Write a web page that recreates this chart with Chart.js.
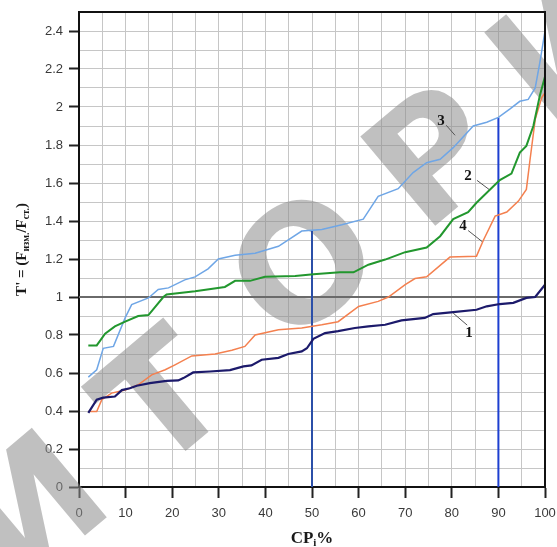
<!DOCTYPE html>
<html><head><meta charset="utf-8">
<script src="https://cdn.jsdelivr.net/npm/chart.js@4.4.1/dist/chart.umd.min.js"></script>
<style>html,body{margin:0;padding:0;background:#fff}canvas{display:block}</style>
</head><body>
<canvas id="c" width="557" height="547"></canvas>
<script>
// ---- data ----
const x1 = [2, 3.8, 5.2, 7.7, 9.2, 10.9, 12.4, 15.2, 18.8, 21.3, 22.4, 24.5, 28.1, 32.4, 35.3, 37, 39.2, 42.8, 44.9, 47.8, 48.9, 50.3, 52.8, 55.6, 59.2, 62.1, 65.7, 69.2, 74.2, 76, 80.3, 85.3, 87.5, 90.3, 93.2, 96, 97.9, 100];
const y1 = [0.39, 0.46, 0.47, 0.476, 0.51, 0.52, 0.533, 0.547, 0.559, 0.561, 0.573, 0.603, 0.608, 0.615, 0.635, 0.64, 0.67, 0.68, 0.70, 0.714, 0.73, 0.78, 0.81, 0.82, 0.837, 0.845, 0.854, 0.877, 0.89, 0.91, 0.92, 0.933, 0.951, 0.963, 0.969, 0.995, 1.0, 1.065];
const x2 = [2, 3.8, 5.6, 7.7, 9.9, 12.7, 14.9, 18.1, 18.8, 24.9, 31.3, 33.5, 36.7, 39.9, 46.4, 50.3, 56, 58.9, 62.1, 65.7, 70, 74.6, 77.5, 80.3, 83.5, 85.3, 90.3, 92.8, 94.6, 96, 97.5, 98.9, 100];
const y2 = [0.745, 0.745, 0.807, 0.845, 0.87, 0.90, 0.905, 1.0, 1.013, 1.03, 1.053, 1.085, 1.085, 1.106, 1.11, 1.12, 1.13, 1.13, 1.17, 1.197, 1.236, 1.26, 1.32, 1.41, 1.447, 1.496, 1.615, 1.65, 1.76, 1.795, 1.90, 2.06, 2.16];
const x3 = [2, 3.8, 5.2, 7.4, 9.9, 11.3, 14.9, 17, 19.2, 22.7, 24.9, 27.7, 29.9, 33.5, 37.8, 42.8, 47.8, 52.1, 56.4, 61, 64.2, 68.5, 71.7, 74.6, 77.5, 80.3, 84.6, 87.5, 90, 92.5, 94.6, 96.4, 97.9, 98.9, 100];
const y3 = [0.578, 0.617, 0.73, 0.74, 0.89, 0.96, 0.995, 1.04, 1.048, 1.09, 1.106, 1.148, 1.20, 1.22, 1.23, 1.267, 1.347, 1.355, 1.38, 1.41, 1.53, 1.57, 1.655, 1.707, 1.725, 1.786, 1.90, 1.92, 1.945, 1.99, 2.03, 2.04, 2.10, 2.235, 2.40];
const x4 = [2, 3.8, 4.9, 7, 9.9, 12.7, 15.6, 18.5, 20.6, 24.2, 29.2, 32.8, 35.6, 37.8, 42.8, 47.8, 52.1, 55.6, 60, 64.2, 66.4, 70, 72.1, 74.6, 79.6, 85.3, 86.8, 89.3, 91.8, 94.3, 96, 96.8, 97.9, 99.3, 100];
const y4 = [0.397, 0.397, 0.46, 0.494, 0.51, 0.538, 0.59, 0.617, 0.643, 0.69, 0.70, 0.72, 0.74, 0.80, 0.828, 0.837, 0.854, 0.87, 0.95, 0.977, 1.0, 1.065, 1.097, 1.106, 1.21, 1.215, 1.30, 1.426, 1.447, 1.505, 1.566, 1.725, 1.935, 2.05, 2.076];
const curveNames = ['1', '2', '3', '4'];
const xTickLabels = [0, 10, 20, 30, 40, 50, 60, 70, 80, 90, 100];
const yTickLabels = [0, 0.2, 0.4, 0.6, 0.8, 1, 1.2, 1.4, 1.6, 1.8, 2, 2.2, 2.4];
const refLineY = 1;
const markerX = [50, 90];
const markerTop = [1.35, 1.945];
const watermarkText = 'РЕПОЗИТОРИЙ';

// ---- presentation ----
const colors = ['#1c1a6b', '#22972e', '#6fa6e6', '#f4804f'];
const widths = [2.2, 2, 1.5, 1.5];
const annot = {
  '1': {lx: 83.7, ly: 0.812, from: [83.3, 0.852], to: [80.3, 0.915]},
  '2': {lx: 83.5, ly: 1.635, from: [85.4, 1.614], to: [88.0, 1.566]},
  '3': {lx: 77.7, ly: 1.925, from: [78.8, 1.904], to: [80.7, 1.851]},
  '4': {lx: 82.4, ly: 1.371, from: [83.5, 1.350], to: [86.5, 1.292]}
};
// watermark layout: letter index 7 ("О") anchored; letters before it pushed back a little
const wm = {font: 'bold 160px "DejaVu Sans"', angle: -40, pitch: 170, anchorIndex: 7, anchor: [312, 275],
            backShift: 25, backDrop: 12, color: 'rgba(140,140,140,0.55)'};

function pts(xs, ys) { return xs.map((x, i) => ({x: x, y: ys[i]})); }
const series = [[x1, y1], [x2, y2], [x3, y3], [x4, y4]];

function drawRich(ctx, parts, cx, cy) {
  let total = 0;
  parts.forEach(p => { ctx.font = p.f; p.w = ctx.measureText(p.t).width; total += p.w; });
  let x = cx - total / 2;
  parts.forEach(p => { ctx.font = p.f; ctx.fillText(p.t, x, cy + (p.dy || 0)); x += p.w; });
}

const overlay = {
  id: 'overlay',
  beforeDatasetsDraw(chart) {
    const {ctx, chartArea: a, scales: {x, y}} = chart;
    // watermark
    ctx.save();
    ctx.font = wm.font;
    ctx.fillStyle = wm.color;
    ctx.textBaseline = 'middle';
    ctx.textAlign = 'center';
    const ang = wm.angle * Math.PI / 180;
    const dx = Math.cos(ang), dy = Math.sin(ang);
    const ux = Math.sin(ang), uy = -Math.cos(ang); // "down" in letter frame -> (-ux,-uy)
    [...watermarkText].forEach((ch, k) => {
      let d = (k - wm.anchorIndex) * wm.pitch;
      let drop = 0;
      if (k < wm.anchorIndex) { d -= wm.backShift; drop = wm.backDrop; }
      ctx.save();
      ctx.translate(wm.anchor[0] + d * dx - drop * ux, wm.anchor[1] + d * dy - drop * uy);
      ctx.rotate(ang);
      ctx.fillText(ch, 0, 0);
      ctx.restore();
    });
    ctx.restore();
    // reference line and markers
    ctx.save();
    ctx.beginPath(); ctx.rect(a.left, a.top, a.right - a.left, a.bottom - a.top); ctx.clip();
    const py = y.getPixelForValue(refLineY);
    ctx.strokeStyle = '#6a6a6a'; ctx.lineWidth = 2;
    ctx.beginPath(); ctx.moveTo(a.left, py); ctx.lineTo(a.right, py); ctx.stroke();
    const mcol = ['#2b4fa8', '#1d3fd0'];
    markerX.forEach((mx, i) => {
      const px = x.getPixelForValue(mx);
      ctx.strokeStyle = mcol[i]; ctx.lineWidth = 2;
      ctx.beginPath(); ctx.moveTo(px, y.getPixelForValue(0)); ctx.lineTo(px, y.getPixelForValue(markerTop[i])); ctx.stroke();
    });
    ctx.restore();
  },
  afterDraw(chart) {
    const {ctx, chartArea: a, scales: {x, y}} = chart;
    ctx.save();
    // frame top/right
    ctx.strokeStyle = '#111'; ctx.lineWidth = 2;
    ctx.beginPath(); ctx.moveTo(a.left, a.top); ctx.lineTo(a.right, a.top); ctx.lineTo(a.right, a.bottom); ctx.stroke();
    // curve labels
    ctx.fillStyle = '#111'; ctx.textAlign = 'center'; ctx.textBaseline = 'middle';
    ctx.font = 'bold 15px "Liberation Serif"';
    curveNames.forEach(n => {
      const an = annot[n];
      ctx.fillText(n, x.getPixelForValue(an.lx), y.getPixelForValue(an.ly));
      ctx.strokeStyle = '#555'; ctx.lineWidth = 1;
      ctx.beginPath();
      ctx.moveTo(x.getPixelForValue(an.from[0]), y.getPixelForValue(an.from[1]));
      ctx.lineTo(x.getPixelForValue(an.to[0]), y.getPixelForValue(an.to[1]));
      ctx.stroke();
    });
    // axis titles
    ctx.fillStyle = '#1a1a1a'; ctx.textAlign = 'left'; ctx.textBaseline = 'alphabetic';
    const big = 'bold 17px "Liberation Serif"', sm = 'bold 11px "Liberation Serif"';
    drawRich(ctx, [{t: 'CP', f: big}, {t: 'i', f: sm, dy: 3}, {t: '%', f: big}], (a.left + a.right) / 2, 543);
    ctx.save();
    ctx.translate(26, (a.top + a.bottom) / 2);
    ctx.rotate(-Math.PI / 2);
    const b2 = 'bold 15px "Liberation Serif"', s2 = 'bold 10px "Liberation Serif"';
    drawRich(ctx, [{t: "T' = (F", f: b2}, {t: 'изм.', f: s2, dy: 3}, {t: '/F', f: b2}, {t: 'ст.', f: s2, dy: 3}, {t: ')', f: b2}], 0, 0);
    ctx.restore();
    ctx.restore();
  }
};

const tickFont = {family: '"Liberation Sans", Arial, sans-serif', size: 13};
new Chart(document.getElementById('c'), {
  type: 'scatter',
  data: {
    datasets: series.map((s, i) => ({
      label: curveNames[i],
      data: pts(s[0], s[1]),
      showLine: true,
      borderColor: colors[i],
      backgroundColor: colors[i],
      borderWidth: widths[i],
      pointRadius: 0,
      tension: 0
    }))
  },
  options: {
    responsive: false,
    animation: false,
    devicePixelRatio: 1,
    layout: {padding: {top: 12, right: 12, left: 0, bottom: 0}},
    plugins: {legend: {display: false}, tooltip: {enabled: false}},
    scales: {
      x: {
        type: 'linear', min: 0, max: 100,
        afterBuildTicks: s => { const t = []; for (let v = 0; v <= 100; v += 5) t.push({value: v}); s.ticks = t; },
        afterFit: s => { s.height = 60; s.paddingLeft = 0; s.paddingRight = 0; },
        ticks: {
          autoSkip: false, maxRotation: 0, padding: 8, color: '#3a3a3a', font: tickFont,
          callback: v => xTickLabels.includes(v) ? String(v) : ''
        },
        grid: {
          color: '#c6c6c6', lineWidth: 1, tickLength: 11, tickWidth: 2,
          tickColor: c => (c.tick && xTickLabels.includes(c.tick.value)) ? '#222' : 'rgba(0,0,0,0)'
        },
        border: {display: true, color: '#111', width: 2}
      },
      y: {
        type: 'linear', min: 0, max: 2.5,
        afterBuildTicks: s => { const t = []; for (let k = 0; k <= 25; k++) t.push({value: k / 10}); s.ticks = t; },
        afterFit: s => { s.width = 79; s.paddingTop = 0; s.paddingBottom = 0; },
        ticks: {
          autoSkip: false, padding: 6, color: '#3a3a3a', font: tickFont,
          callback: v => { const r = Math.round(v * 10) / 10; return yTickLabels.includes(r) ? String(r) : ''; }
        },
        grid: {
          color: '#c6c6c6', lineWidth: 1, tickLength: 10, tickWidth: 2,
          tickColor: c => (c.tick && yTickLabels.includes(Math.round(c.tick.value * 10) / 10)) ? '#222' : 'rgba(0,0,0,0)'
        },
        border: {display: true, color: '#111', width: 2}
      }
    }
  },
  plugins: [overlay]
});
</script>
</body></html>
